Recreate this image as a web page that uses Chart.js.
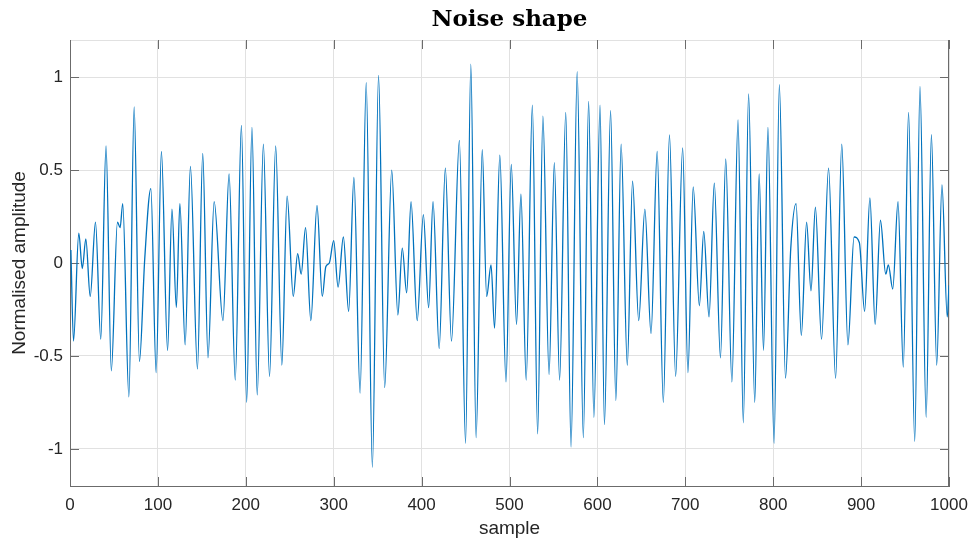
<!DOCTYPE html>
<html>
<head>
<meta charset="utf-8">
<script src="https://cdn.jsdelivr.net/npm/chart.js@4/dist/chart.umd.min.js"></script>
<style>
  html, body { margin: 0; padding: 0; background: #fff; }
  #wrap { width: 971px; height: 540px; position: relative; }
</style>
</head>
<body>
<div id="wrap"><canvas id="noiseChart"></canvas></div>
<script>
// local peaks / troughs (sample index, amplitude)
const peakSamples = [
  1, 4, 10, 14, 18, 23, 29, 35, 41, 47, 54, 57, 60, 67, 73, 79, 85, 92, 98, 104,
  111, 116, 121, 125, 131, 137, 145, 151, 157, 164, 174, 181, 188, 195, 201, 207, 213, 220, 227, 234,
  241, 247, 254, 259, 263, 268, 274, 281, 287, 291, 295, 300, 305, 311, 317, 323, 330, 337, 344, 351,
  358, 366, 373, 378, 383, 388, 395, 402, 408, 413, 420, 427, 434, 443, 450, 456, 462, 469, 474, 479,
  483, 489, 496, 502, 508, 513, 519, 526, 532, 538, 545, 551, 557, 564, 570, 577, 584, 590, 596, 603,
  608, 615, 621, 627, 634, 640, 647, 654, 661, 668, 675, 682, 689, 697, 703, 709, 716, 721, 727, 733,
  740, 746, 753, 760, 766, 772, 779, 784, 789, 794, 801, 807, 814, 820, 826, 832, 838, 843, 848, 855,
  863, 871, 878, 885, 892, 898, 904, 910, 916, 922, 928, 931, 936, 942, 948, 954, 961, 967, 974, 980,
  986, 992, 998, 1000
]
const peakValues = [
  0.07, -0.42, 0.16, -0.03, 0.13, -0.18, 0.22, -0.41, 0.63, -0.58, 0.22, 0.19, 0.32, -0.72, 0.84, -0.53, 0.02, 0.40, -0.59, 0.60,
  -0.47, 0.29, -0.24, 0.32, -0.44, 0.52, -0.57, 0.59, -0.51, 0.33, -0.31, 0.48, -0.63, 0.74, -0.75, 0.73, -0.71, 0.64, -0.61, 0.63,
  -0.55, 0.36, -0.18, 0.05, -0.06, 0.19, -0.31, 0.31, -0.18, -0.02, 0.00, 0.12, -0.13, 0.14, -0.26, 0.46, -0.70, 0.97, -1.10, 1.01,
  -0.67, 0.50, -0.28, 0.08, -0.16, 0.33, -0.31, 0.26, -0.24, 0.33, -0.46, 0.51, -0.42, 0.66, -0.97, 1.07, -0.94, 0.61, -0.18, -0.01,
  -0.35, 0.58, -0.64, 0.53, -0.33, 0.37, -0.63, 0.85, -0.92, 0.79, -0.60, 0.54, -0.63, 0.81, -0.99, 1.03, -0.94, 0.87, -0.83, 0.85,
  -0.87, 0.82, -0.74, 0.64, -0.55, 0.44, -0.31, 0.29, -0.38, 0.60, -0.75, 0.69, -0.61, 0.62, -0.59, 0.41, -0.23, 0.17, -0.29, 0.43,
  -0.51, 0.56, -0.64, 0.77, -0.86, 0.91, -0.75, 0.48, -0.47, 0.73, -0.97, 0.96, -0.62, 0.08, 0.32, -0.39, 0.22, -0.15, 0.30, -0.41,
  0.51, -0.62, 0.64, -0.44, 0.14, 0.11, -0.26, 0.35, -0.33, 0.23, -0.06, -0.01, -0.14, 0.33, -0.56, 0.81, -0.96, 0.95, -0.83, 0.69,
  -0.55, 0.42, -0.29, -0.12
]

const xTicks = [0, 100, 200, 300, 400, 500, 600, 700, 800, 900, 1000]
const yTicks = [-1, -0.5, 0, 0.5, 1]
const chartTitle = 'Noise shape'

const axisColor = '#6b6b6b'
const gridColor = '#e1e1e1'
const textColor = '#262626'

// inner tick marks + right/top box edges + title over the axes, matlab style
const boxPlugin = {
  id: 'box',
  beforeDatasetsDraw(chart) {
    const { ctx, chartArea: a, scales } = chart
    const len = 9
    ctx.save()
    ctx.lineWidth = 1
    ctx.strokeStyle = gridColor
    ctx.beginPath()
    ctx.moveTo(a.left, a.top + 0.5)
    ctx.lineTo(a.right, a.top + 0.5)
    ctx.stroke()
    ctx.strokeStyle = axisColor
    ctx.beginPath()
    ctx.moveTo(a.right - 0.5, a.top)
    ctx.lineTo(a.right - 0.5, a.bottom)
    yTicks.forEach(v => {
      const y = Math.round(scales.y.getPixelForValue(v)) + 0.5
      ctx.moveTo(a.left, y); ctx.lineTo(a.left + len, y)
      ctx.moveTo(a.right, y); ctx.lineTo(a.right - len, y)
    })
    xTicks.forEach(v => {
      const x = Math.round(scales.x.getPixelForValue(v)) + 0.5
      ctx.moveTo(x, a.bottom); ctx.lineTo(x, a.bottom - len)
      ctx.moveTo(x, a.top); ctx.lineTo(x, a.top + len)
    })
    ctx.stroke()
    ctx.restore()
  },
  afterDraw(chart) {
    const { ctx, chartArea: a } = chart
    ctx.save()
    ctx.fillStyle = '#000'
    ctx.font = 'bold 23px "DejaVu Serif"'
    ctx.textAlign = 'center'
    ctx.textBaseline = 'alphabetic'
    ctx.fillText(chartTitle, (a.left + a.right) / 2, 26)
    ctx.restore()
  }
}

const config = {
  type: 'line',
  data: {
    datasets: [{
      label: 'noise',
      data: peakSamples.map((s, i) => ({ x: s, y: peakValues[i] })),
      borderColor: '#0072BD',
      borderWidth: 1.3,
      pointRadius: 0,
      fill: false,
      cubicInterpolationMode: 'monotone'
    }]
  },
  options: {
    responsive: true,
    maintainAspectRatio: false,
    animation: false,
    devicePixelRatio: 1,
    layout: { padding: { left: 0, right: 22, top: 40, bottom: 0 } },
    plugins: {
      legend: { display: false },
      tooltip: { enabled: false },
      title: { display: false }
    },
    scales: {
      x: {
        type: 'linear',
        min: 0,
        max: 1000,
        afterBuildTicks: scale => { scale.ticks = xTicks.map(v => ({ value: v })) },
        afterFit: scale => {
          scale.height = 54
          scale.paddingLeft = 0
          scale.paddingRight = 0
        },
        grid: { color: gridColor, drawTicks: false },
        border: { display: true, color: axisColor },
        ticks: {
          padding: 9,
          color: textColor,
          font: { family: 'Liberation Sans', size: 17 },
          maxRotation: 0,
          callback: v => String(v)
        },
        title: {
          display: true,
          text: 'sample',
          color: textColor,
          font: { family: 'Liberation Sans', size: 19 },
          padding: { top: 0, bottom: 0 }
        }
      },
      y: {
        type: 'linear',
        min: -1.2,
        max: 1.2,
        afterBuildTicks: scale => { scale.ticks = yTicks.map(v => ({ value: v })) },
        afterFit: scale => {
          scale.width = 70
          scale.paddingTop = 0
          scale.paddingBottom = 0
        },
        grid: { color: gridColor, drawTicks: false },
        border: { display: true, color: axisColor },
        ticks: {
          padding: 7,
          color: textColor,
          font: { family: 'Liberation Sans', size: 17 },
          callback: v => String(v)
        },
        title: {
          display: true,
          text: 'Normalised amplitude',
          color: textColor,
          font: { family: 'Liberation Sans', size: 19 },
          padding: { top: 8, bottom: 0 }
        }
      }
    }
  },
  plugins: [boxPlugin]
}

new Chart(document.getElementById('noiseChart'), config)
</script>
</body>
</html>
